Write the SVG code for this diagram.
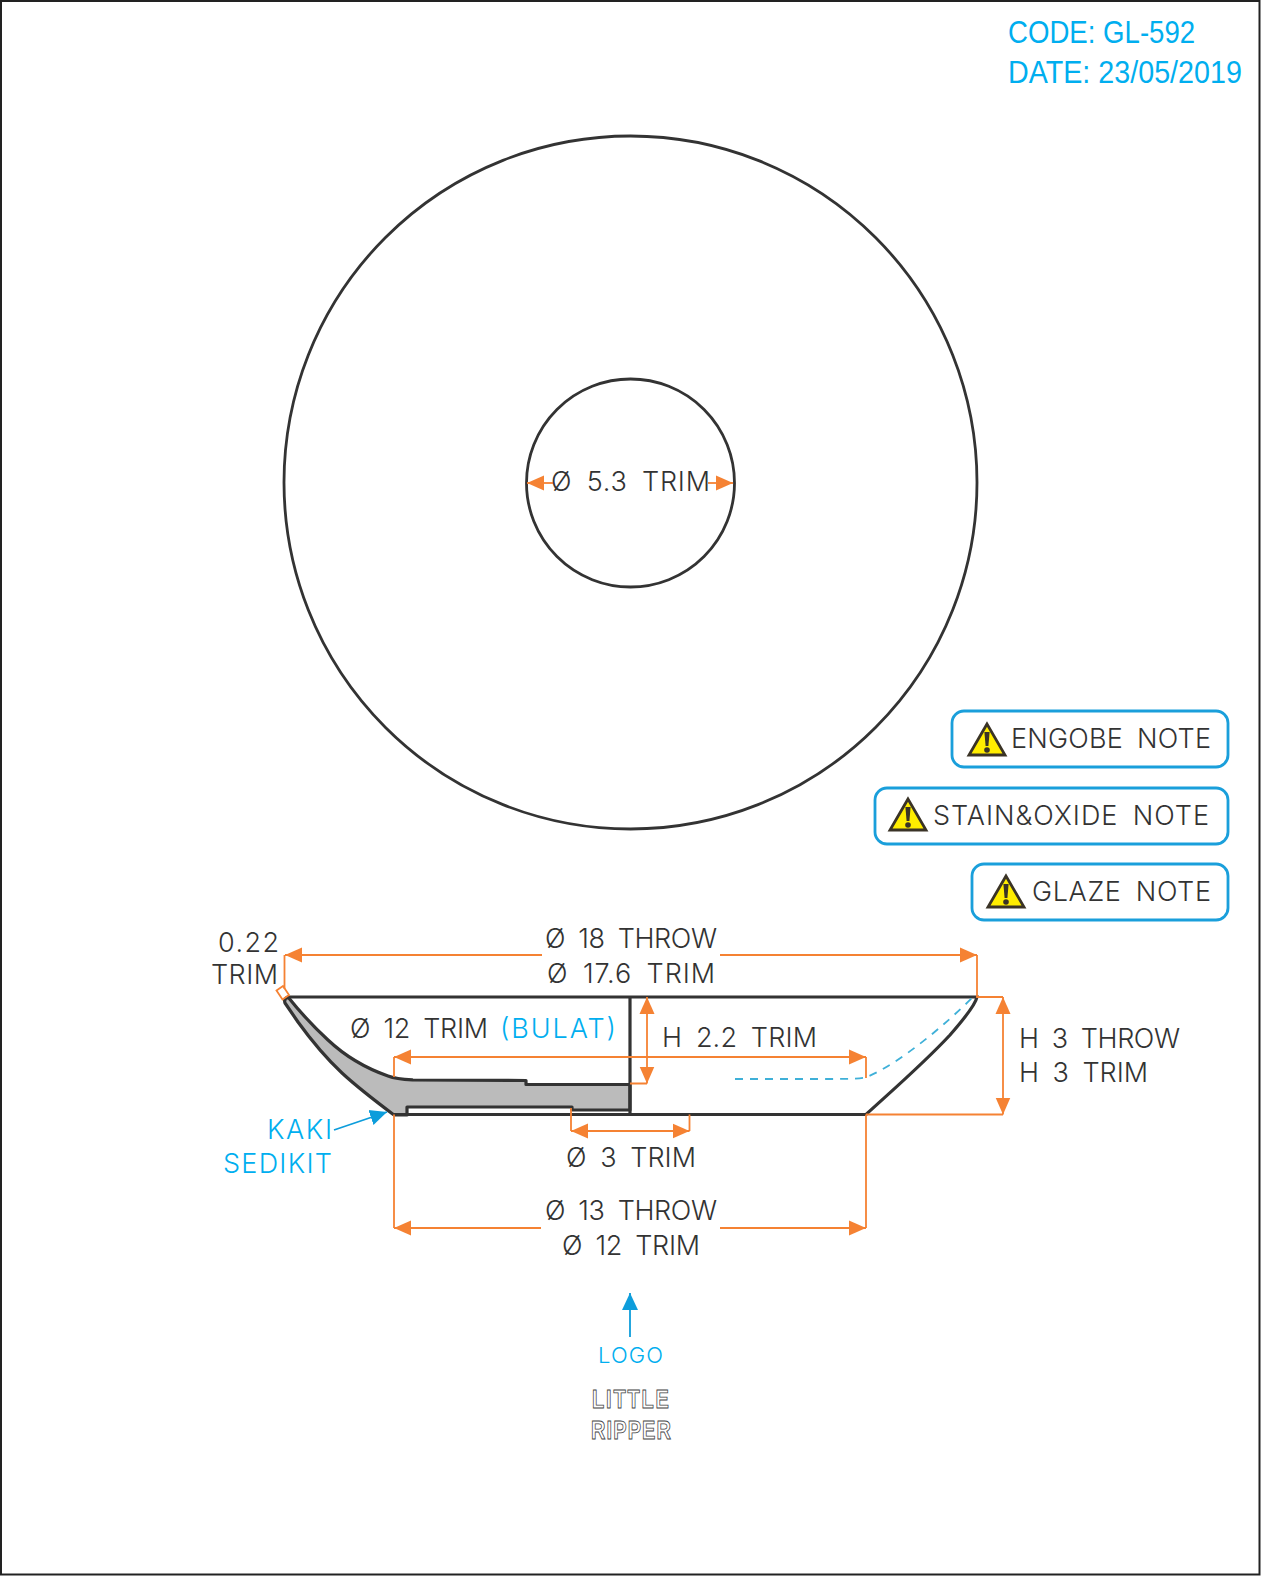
<svg xmlns="http://www.w3.org/2000/svg" width="1261" height="1576" viewBox="0 0 1261 1576">
<style>
text{font-family:"Inter","Liberation Sans",sans-serif;font-weight:300;font-size:27px;fill:#333;word-spacing:6px}
.b{fill:#00aeef}
.code{font-family:"Liberation Sans",sans-serif;font-weight:400;font-size:32px;fill:#00aeef;word-spacing:0}
.logo{font-family:"Liberation Sans",sans-serif;font-weight:700;font-size:25px;fill:#fff;stroke:#444;stroke-width:.9}
.o{fill:none;stroke:#f58233;stroke-width:1.8}
.a{marker-end:url(#oa)}
.aa{marker-start:url(#oa);marker-end:url(#oa)}
.k{fill:none;stroke:#333;stroke-width:3.2}
.box{fill:#fff;stroke:#1a9fdb;stroke-width:2.8}
</style>
<defs>
<marker id="oa" markerUnits="userSpaceOnUse" markerWidth="19" markerHeight="18" viewBox="0 -9 19 18" refX="17" refY="0" orient="auto-start-reverse"><path d="M0-7.500L17 0L0 7.500z" fill="#f58233"/></marker>
<marker id="ba" markerUnits="userSpaceOnUse" markerWidth="19" markerHeight="18" viewBox="0 -9 19 18" refX="17" refY="0" orient="auto"><path d="M0-8L17 0L0 8z" fill="#0d9ddb"/></marker>
<g id="warn"><path d="M0 1L-18 32H18z" fill="#ffed00" stroke="#3a3326" stroke-width="2.800"/><path d="M-2.600 9H2.600L1.400 23H-1.400z" fill="#3a3326"/><circle cx="0" cy="27" r="2.800" fill="#3a3326"/></g>
</defs>
<rect width="1261" height="1576" fill="#fff"/>
<rect x="1" y="1" width="1258.5" height="1573.5" fill="none" stroke="#222" stroke-width="2"/>

<g id="plan-view">
<circle cx="630.5" cy="482.5" r="346.5" class="k" style="stroke-width:2.800"/>
<circle cx="630.5" cy="483" r="104" class="k" style="stroke-width:2.800"/>
</g>

<g id="section-view">
<path d="M288 997C300 1012 315 1028 328 1040C345 1056 368 1069 388 1076C396 1079 405 1079.500 413 1080L526 1080.500V1084.500H630V1110H572V1107H407V1115H394C370 1097 355 1085 342 1073C325 1057 311 1040 298 1022L285 1003C284 1000 285 998 288 997Z" fill="#bbb" stroke="#333" stroke-width="3.200" stroke-linejoin="round"/>
<path d="M287 997H977C976 1002 971 1011 950 1035C925 1062 895 1088 866 1114.500H394" class="k"/>
<path d="M630 997V1115" class="k"/>
<path d="M735 1079H820C845 1079 860 1079 867 1077C900 1063 945 1025 973 997" fill="none" stroke="#3fb0d8" stroke-width="1.800" stroke-dasharray="8 7"/>
</g>

<g id="connectors">
<path class="o a" d="M542 955H285"/>
<path class="o a" d="M720 955H977"/>
<path class="o" d="M284.500 955V989M977 955V997H1003M866 1114.500H1003M394 1057V1077M866 1057V1078M630 1083.500H647M571 1108V1131M689.500 1114.500V1131M394 1114.500V1228M866 1114.500V1228"/>
<path class="o" d="M276.500 990.500L283 986L289 995L282.500 999.500Z" stroke-width="1"/>
<path class="o aa" d="M1003 997V1114.500"/>
<path class="o aa" d="M647 997V1083.500"/>
<path class="o aa" d="M394 1057H866"/>
<path class="o aa" d="M571 1131H689.500"/>
<path class="o a" d="M541 1228H394"/>
<path class="o a" d="M720 1228H866"/>
<path class="o a" d="M553 483H527"/>
<path class="o a" d="M708 483H733"/>
<path d="M334 1130L387 1112" fill="none" stroke="#0d9ddb" stroke-width="1.800" marker-end="url(#ba)"/>
<path d="M630 1337V1293" fill="none" stroke="#0d9ddb" stroke-width="1.800" marker-end="url(#ba)"/>
</g>

<g id="dimensions">
<text x="551" y="491" textLength="159">Ø 5.3 TRIM</text>
<text x="218" y="952" textLength="61">0.22</text>
<text x="211" y="984" textLength="67">TRIM</text>
<text x="545" y="948" textLength="172">Ø 18 THROW</text>
<text x="547" y="983" textLength="168">Ø 17.6 TRIM</text>
<text x="350" y="1038" textLength="138">Ø 12 TRIM</text>
<text x="500" y="1038" textLength="116" class="b">(BULAT)</text>
<text x="662" y="1047" textLength="155">H 2.2 TRIM</text>
<text x="1019" y="1048" textLength="161">H 3 THROW</text>
<text x="1019" y="1082" textLength="129">H 3 TRIM</text>
<text x="566" y="1167" textLength="130">Ø 3 TRIM</text>
<text x="545" y="1220" textLength="172">Ø 13 THROW</text>
<text x="562" y="1255" textLength="138">Ø 12 TRIM</text>
<text x="267" y="1139" textLength="65" class="b">KAKI</text>
<text x="223" y="1173" textLength="109" class="b">SEDIKIT</text>
</g>

<g id="note-engobe">
<rect x="952" y="711" width="276" height="56" rx="12" class="box"/>
<use href="#warn" x="987" y="723"/>
<text x="1011" y="748" textLength="200">ENGOBE NOTE</text>
</g>
<g id="note-stain">
<rect x="875" y="788" width="353" height="56" rx="12" class="box"/>
<use href="#warn" x="908" y="798"/>
<text x="933" y="825" textLength="276">STAIN&amp;OXIDE NOTE</text>
</g>
<g id="note-glaze">
<rect x="972" y="864" width="256" height="56" rx="12" class="box"/>
<use href="#warn" x="1006" y="875"/>
<text x="1032" y="901" textLength="179">GLAZE NOTE</text>
</g>

<g id="title">
<text transform="translate(1008 43) scale(.863 1)" class="code">CODE: GL-592</text>
<text transform="translate(1008 83) scale(.897 1)" class="code">DATE: 23/05/2019</text>
</g>

<g id="logo">
<text x="598" y="1363" textLength="65" class="b" style="font-size:22px">LOGO</text>
<text transform="translate(592 1408) scale(.8 1)" textLength="96" class="logo">LITTLE</text>
<text transform="translate(591 1439) scale(.8 1)" textLength="100" class="logo">RIPPER</text>
</g>
</svg>
